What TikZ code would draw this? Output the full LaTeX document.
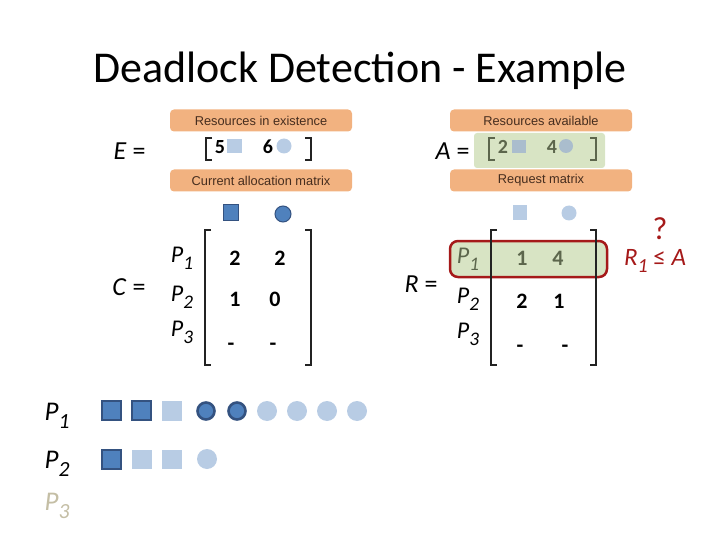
\documentclass[tikz,border=0pt]{standalone}
\usepackage{fontspec}
\setmainfont{Carlito}
\newfontfamily\tagfont{Liberation Sans}
\usepackage{xcolor}
\usepackage{tikz}
\usetikzlibrary{positioning}
\definecolor{tagOrange}{RGB}{242,178,128}
\definecolor{tagText}{RGB}{70,45,30}
\definecolor{availGreen}{RGB}{216,228,196}
\definecolor{availText}{RGB}{92,102,76}
\definecolor{resLight}{RGB}{184,204,228}
\definecolor{resDark}{RGB}{79,129,189}
\definecolor{resEdge}{RGB}{52,82,128}
\definecolor{chkRed}{RGB}{165,25,25}
\definecolor{brkGray}{RGB}{35,35,35}
\definecolor{pFaint}{RGB}{196,190,165}
\newcommand{\procLbl}[1]{P\raisebox{-0.3em}{\scalebox{0.8}{#1}}}

\tikzset{
  tag/.style={rounded corners=4pt, fill=tagOrange, minimum width=182pt, minimum height=22pt,
    inner sep=0pt, text=tagText, font=\tagfont\fontsize{12.8}{13}\selectfont},
  lhs/.style={anchor=base east, font=\fontsize{26}{28}\selectfont},
  entry/.style={anchor=base, font=\fontsize{22}{24}\selectfont\bfseries},
  vecEntry/.style={anchor=base, font=\fontsize{20}{22}\selectfont\bfseries},
  proc/.style={anchor=base, font=\fontsize{24}{26}\selectfont\itshape},
  brk/.style={draw=brkGray, line width=2pt},
  resFull/.style={fill=resDark, draw=resEdge, line width=2.6pt},
  resFree/.style={fill=resLight},
}

\begin{document}
\begin{tikzpicture}[x=1pt,y=-1pt]
  \useasboundingbox (0,0) rectangle (720,540);

  % title
  \node[anchor=base, font=\fontsize{44}{47}\selectfont] (titleText) at (360,83) {Deadlock Detection - Example};

  % existence vector E
  \node[lhs] (eLabel) at (149,160) {\textit{E} =};
  \node[tag] (tagExist) at (261,120.5) {Resources in existence};
  \draw[brk] (212,138) -- (206,138) -- (206,160) -- (212,160);
  \draw[brk] (305,138) -- (311,138) -- (311,160) -- (305,160);
  \node[vecEntry] (eOne) at (220,154) {5};
  \fill[resFree] (227,139) rectangle (242,153);
  \node[vecEntry] (eTwo) at (268,154) {6};
  \fill[resFree] (284,146) circle (7.5);
  \node[tag] (tagAlloc) at (261,180.5) {Current allocation matrix};
  \filldraw[fill=resDark, draw=resEdge, line width=1pt] (223,205) rectangle (238,221);
  \filldraw[fill=resDark, draw=resEdge, line width=1pt] (283,214) circle (8);

  % allocation matrix C
  \node[lhs] (cLabel) at (149,295) {\textit{C} =};
  \node[proc] (cPOne) at (182,262) {\procLbl{1}};
  \node[proc] (cPTwo) at (182,301) {\procLbl{2}};
  \node[proc] (cPThree) at (182,336) {\procLbl{3}};
  \draw[brk] (211,230) -- (205,230) -- (205,365) -- (211,365);
  \draw[brk] (305,230) -- (311,230) -- (311,365) -- (305,365);
  \node[entry] (cOneA) at (235,265) {2};
  \node[entry] (cOneB) at (280,265) {2};
  \node[entry] (cTwoA) at (235,306) {1};
  \node[entry] (cTwoB) at (275,306) {0};
  \node[entry] (cThreeA) at (231,350) {-};
  \node[entry] (cThreeB) at (273,350) {-};

  % available vector A
  \node[lhs] (aLabel) at (473,160) {\textit{A} =};
  \node[tag] (tagAvail) at (541,120.5) {Resources available};
  \fill[availGreen, rounded corners=3pt] (474,133) rectangle (605,168);
  \draw[brk, draw=availText] (495,138) -- (489,138) -- (489,160) -- (495,160);
  \draw[brk, draw=availText] (590,138) -- (596,138) -- (596,160) -- (590,160);
  \node[vecEntry, text=availText] (aOne) at (503,154) {2};
  \fill[resLight!85!availText] (512,140) rectangle (526,153);
  \node[vecEntry, text=availText] (aTwo) at (552,154) {4};
  \fill[resLight!85!availText] (566,146) circle (7);
  \node[tag] (tagReq) at (541,180.5) {Request matrix};
  \fill[resFree] (513,205) rectangle (527,220);
  \fill[resFree] (569,213) circle (7.5);

  % request matrix R
  \filldraw[fill=availGreen, draw=chkRed, line width=2.5pt, rounded corners=8pt] (450,241) rectangle (607,277);
  \node[lhs] (rLabel) at (441,292) {\textit{R} =};
  \node[proc, text=availText] (rPOne) at (468,263) {\procLbl{1}};
  \node[proc] (rPTwo) at (468,303) {\procLbl{2}};
  \node[proc] (rPThree) at (468,338) {\procLbl{3}};
  \draw[brk] (497,230) -- (491,230) -- (491,365) -- (497,365);
  \draw[brk] (590,230) -- (596,230) -- (596,365) -- (590,365);
  \node[entry, text=availText] (rOneA) at (522,265) {1};
  \node[entry, text=availText] (rOneB) at (558,265) {4};
  \node[entry] (rTwoA) at (522,308) {2};
  \node[entry] (rTwoB) at (559,308) {1};
  \node[entry] (rThreeA) at (520,352) {-};
  \node[entry] (rThreeB) at (565,352) {-};

  % check
  \node[anchor=base, text=chkRed, font=\fontsize{32}{34}\selectfont] (chkMark) at (660,240) {?};
  \node[anchor=base, text=chkRed, font=\fontsize{25}{27}\selectfont] (chkText) at (655,265) {\textit{R\raisebox{-0.3em}{\scalebox{0.8}{1}}} ≤ \textit{A}};

  % resources held and wanted per process
  \node[proc, font=\fontsize{27}{29}\selectfont\itshape] (hPOne) at (57,420) {\procLbl{1}};
  \node[proc, font=\fontsize{27}{29}\selectfont\itshape] (hPTwo) at (57,468) {\procLbl{2}};
  \node[proc, font=\fontsize{27}{29}\selectfont\itshape, text=pFaint] (hPThree) at (57,510) {\procLbl{3}};

  \filldraw[resFull] (102,401) rectangle (121,420);
  \filldraw[resFull] (132,401) rectangle (151,420);
  \fill[resFree] (162,401) rectangle (182,421);
  \filldraw[resFull] (206,411) circle (8.5);
  \filldraw[resFull] (237,411) circle (8.5);
  \fill[resFree] (267,411) circle (10);
  \fill[resFree] (297,411) circle (10);
  \fill[resFree] (327,411) circle (10);
  \fill[resFree] (357,411) circle (10);

  \filldraw[resFull] (102,450) rectangle (121,469);
  \fill[resFree] (132,450) rectangle (152,469);
  \fill[resFree] (162,450) rectangle (182,469);
  \fill[resFree] (207,459) circle (10);
\end{tikzpicture}
\end{document}
